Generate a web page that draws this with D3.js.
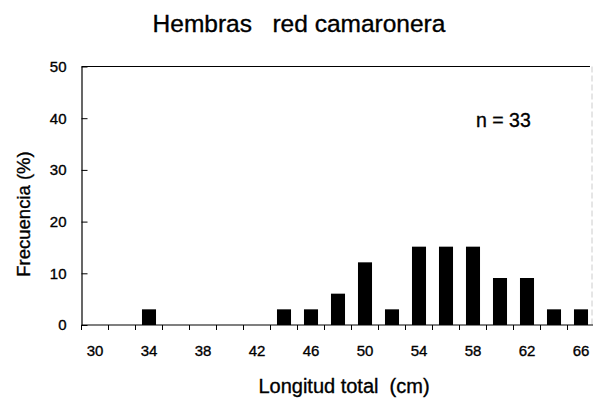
<!DOCTYPE html>
<html>
<head>
<meta charset="utf-8">
<script src="https://cdn.jsdelivr.net/npm/d3@7"></script>
<style>
  html, body { margin: 0; padding: 0; background: #fff; }
  svg text { font-family: "Liberation Sans", Arial, sans-serif; fill: #000; stroke: #000; stroke-width: 0.35px; }
</style>
</head>
<body>
<svg id="chart" width="594" height="407"></svg>
<script>
// Length classes (cm) and frequency (%) of females, n = 33
const lengthClasses = [30, 32, 34, 36, 38, 40, 42, 44, 46, 48, 50, 52, 54, 56, 58, 60, 62, 64, 66];
const counts        = [0, 0, 1, 0, 0, 0, 0, 1, 1, 2, 4, 1, 5, 5, 5, 3, 3, 1, 1];
const sampleSize = 33;
const frequency = counts.map(c => c / sampleSize * 100);
const xTickLabels = [30, 34, 38, 42, 46, 50, 54, 58, 62, 66];
const yTicks = [0, 10, 20, 30, 40, 50];

const svg = d3.select("#chart");
const plot = { left: 81.5, right: 593, top: 66.5, bottom: 325 };

const x = d3.scaleBand()
  .domain(lengthClasses)
  .range([plot.left, plot.left + 27 * lengthClasses.length])
  .paddingInner(0.48)
  .paddingOuter(0.24);

const y = d3.scaleLinear().domain([0, 50]).range([plot.bottom, plot.top]);

// Frame: top border, faint right border
svg.append("line")
  .attr("x1", plot.left).attr("x2", plot.right - 3)
  .attr("y1", plot.top).attr("y2", plot.top)
  .attr("stroke", "#000").attr("stroke-width", 1);
svg.append("line")
  .attr("x1", plot.right - 1).attr("x2", plot.right - 1)
  .attr("y1", plot.top).attr("y2", plot.bottom)
  .attr("stroke", "#ccc").attr("stroke-width", 1)
  .attr("stroke-dasharray", "6,3");

// Bars
svg.append("g").selectAll("rect")
  .data(lengthClasses.map((d, i) => ({ cls: d, v: frequency[i] })).filter(d => d.v > 0))
  .join("rect")
  .attr("x", d => x(d.cls))
  .attr("width", x.bandwidth())
  .attr("y", d => y(d.v))
  .attr("height", d => y(0) - y(d.v))
  .attr("fill", "#000");

// Y axis with inward ticks
const yAxis = svg.append("g")
  .attr("transform", `translate(${plot.left},0)`)
  .call(d3.axisLeft(y).tickValues(yTicks).tickSizeInner(-6).tickSizeOuter(0).tickPadding(15));
yAxis.select(".domain").attr("stroke", "#000").attr("stroke-width", 1.2);
yAxis.selectAll(".tick line").attr("stroke", "#000");
yAxis.selectAll(".tick text")
  .style("font-size", "15px")
  .attr("font-family", "Liberation Sans, Arial, sans-serif");

// X axis: ticks at class boundaries, labels every 4 cm
const boundaries = lengthClasses.map(d => x(d) - x.step() * x.paddingInner() / 2);
const xg = svg.append("g");
xg.append("line")
  .attr("x1", plot.left).attr("x2", plot.right)
  .attr("y1", y(0)).attr("y2", y(0))
  .attr("stroke", "#000").attr("stroke-width", 1.2);
xg.selectAll("line.tk")
  .data(boundaries)
  .join("line").attr("class", "tk")
  .attr("x1", d => d).attr("x2", d => d)
  .attr("y1", y(0)).attr("y2", y(0) + 5)
  .attr("stroke", "#000");
xg.selectAll("text")
  .data(xTickLabels)
  .join("text")
  .attr("x", d => x(d) + x.bandwidth() / 2)
  .attr("y", y(0) + 31)
  .attr("text-anchor", "middle")
  .style("font-size", "15px")
  .text(d => d);

// Titles and labels
svg.append("text")
  .attr("x", 299).attr("y", 32)
  .attr("text-anchor", "middle")
  .style("font-size", "24.5px")
  .style("white-space", "pre")
  .attr("xml:space", "preserve")
  .text("Hembras   red camaronera");

svg.append("text")
  .attr("transform", "translate(30,214) rotate(-90)")
  .attr("text-anchor", "middle")
  .style("font-size", "18.5px")
  .text("Frecuencia (%)");

svg.append("text")
  .attr("x", 344).attr("y", 393)
  .attr("text-anchor", "middle")
  .style("font-size", "20px")
  .style("white-space", "pre")
  .attr("xml:space", "preserve")
  .text("Longitud total  (cm)");

svg.append("text")
  .attr("x", 476).attr("y", 127)
  .style("font-size", "19.5px")
  .text("n = " + sampleSize);
</script>
</body>
</html>
